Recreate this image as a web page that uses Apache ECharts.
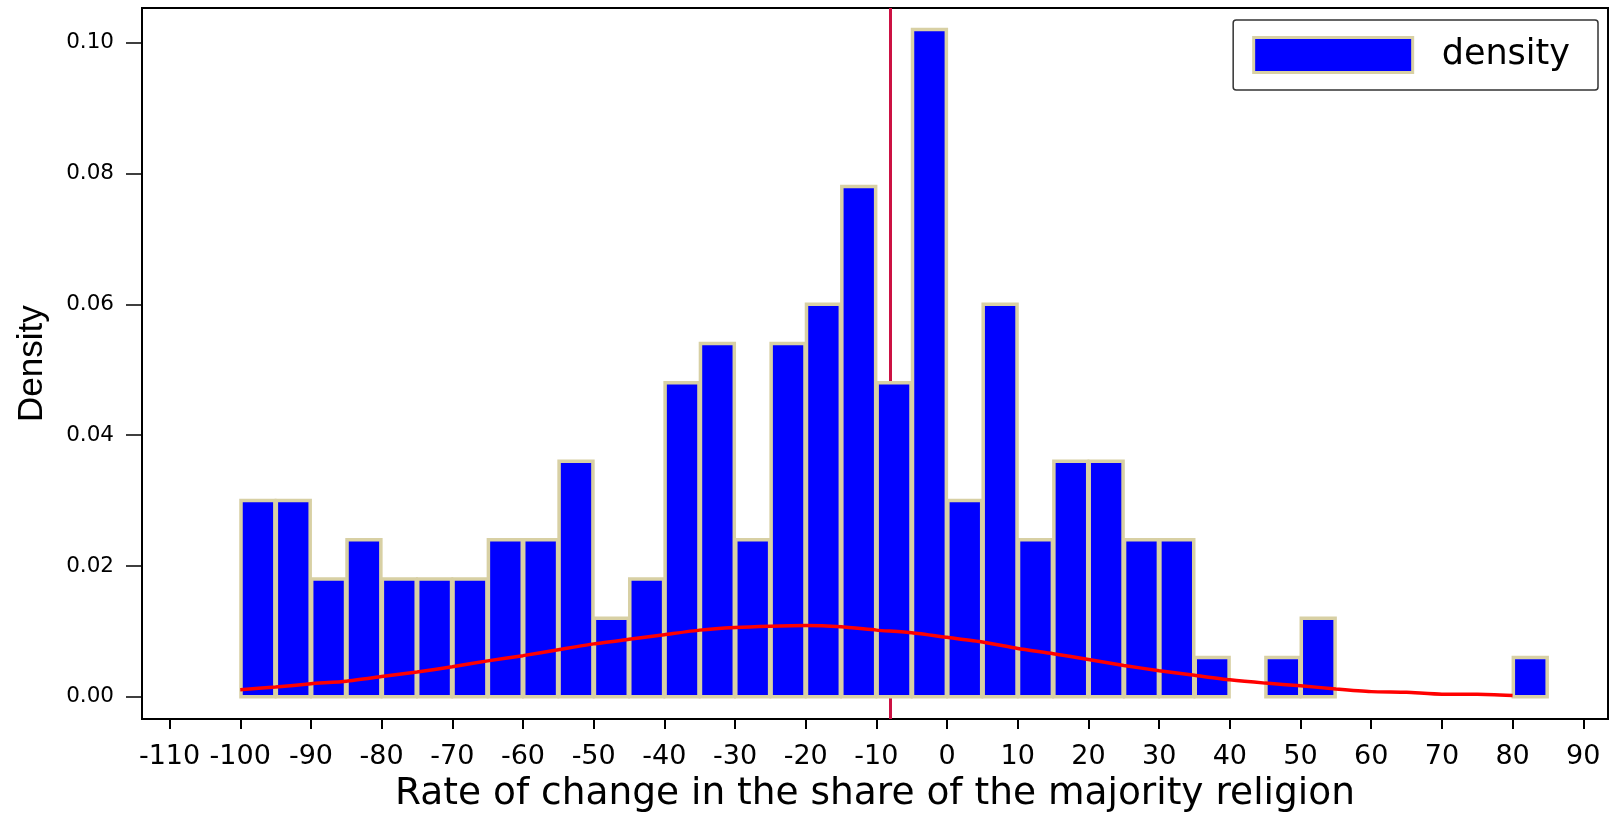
<!DOCTYPE html>
<html>
<head>
<meta charset="utf-8">
<script src="https://cdn.jsdelivr.net/npm/echarts@6/dist/echarts.min.js"></script>
<style>
  html, body { margin: 0; padding: 0; background: #fff; }
  #chart { width: 1613px; height: 818px; }
</style>
</head>
<body>
<div id="chart"></div>
<script>
// ---- data ----
const binStart = [-100, -95, -90, -85, -80, -75, -70, -65, -60, -55, -50, -45, -40, -35, -30, -25, -20, -15, -10, -5,
                  0, 5, 10, 15, 20, 25, 30, 35, 40, 45, 50, 55, 60, 65, 70, 75, 80];
const binWidth = 5;
const density = [0.030, 0.030, 0.018, 0.024, 0.018, 0.018, 0.018, 0.024, 0.024, 0.036, 0.012, 0.018, 0.048, 0.054, 0.024, 0.054, 0.060, 0.078, 0.048, 0.102,
                 0.030, 0.060, 0.024, 0.036, 0.036, 0.024, 0.024, 0.006, 0, 0.006, 0.012, 0, 0, 0, 0, 0, 0.006];
const curveX = [-100, -95, -90, -85, -80, -75, -70, -65, -60, -55, -50, -45, -40, -35, -30, -25, -20, -15, -10, -5,
                0, 5, 10, 15, 20, 25, 30, 35, 40, 45, 50, 55, 60, 65, 70, 75, 80];
const curveY = [0.0011, 0.0015, 0.0020, 0.0024, 0.0031, 0.0038, 0.0046, 0.0055, 0.0063, 0.0072, 0.0081, 0.0088, 0.0095, 0.0102, 0.0106, 0.0108, 0.0109, 0.0107, 0.0102, 0.0098,
                0.0091, 0.0084, 0.0074, 0.0066, 0.0057, 0.0048, 0.0040, 0.0033, 0.0026, 0.0021, 0.0017, 0.0012, 0.0008, 0.0007, 0.0004, 0.0004, 0.0002];
const meanValue = -8;
const xTicks = [-110, -100, -90, -80, -70, -60, -50, -40, -30, -20, -10, 0, 10, 20, 30, 40, 50, 60, 70, 80, 90];
const yTicks = [0, 0.02, 0.04, 0.06, 0.08, 0.10];
const seriesName = 'density';
const xTitle = 'Rate of change in the share of the majority religion';
const yTitle = 'Density';

// ---- chart ----
const BLUE = '#0000ff';
const BEIGE = '#d8d0a4';
const chart = echarts.init(document.getElementById('chart'), null, { renderer: 'canvas' });

const histData = binStart
  .map((s, i) => [s, s + binWidth, density[i]])
  .filter(d => d[2] > 0);
const curveData = curveX.map((x, i) => [x, curveY[i]]);

chart.setOption({
  animation: false,
  backgroundColor: '#fff',
  grid: {
    left: 142, right: 5, top: 8, bottom: 91,
    show: true, borderColor: '#000', borderWidth: 2, backgroundColor: 'transparent'
  },
  legend: {
    data: [{ name: seriesName, icon: 'rect' }],
    right: 15, top: 20,
    itemWidth: 159, itemHeight: 35,
    itemStyle: { color: BLUE, borderColor: BEIGE, borderWidth: 3 },
    textStyle: { fontFamily: 'DejaVu Sans', fontSize: 35, color: '#000', padding: [0, 0, 0, 24], lineHeight: 35 },
    padding: [16, 28, 16, 19],
    borderColor: '#333', borderWidth: 1.5, borderRadius: 3,
    backgroundColor: '#fff',
    selectedMode: false
  },
  xAxis: {
    type: 'value',
    min: -113.9, max: 93.5,
    name: xTitle,
    nameLocation: 'middle',
    nameGap: 50,
    nameTextStyle: { fontFamily: 'DejaVu Sans', fontSize: 37.5, color: '#000' },
    axisLine: { show: true, onZero: false, lineStyle: { color: '#000', width: 2 } },
    axisTick: { show: true, length: 10, lineStyle: { color: '#000', width: 2 }, customValues: xTicks },
    axisLabel: { customValues: xTicks, fontFamily: 'DejaVu Sans', fontSize: 27, color: '#000', margin: 24 },
    splitLine: { show: false }
  },
  yAxis: {
    type: 'value',
    min: -0.0034, max: 0.1053,
    name: yTitle,
    nameLocation: 'middle',
    nameGap: 92,
    nameTextStyle: { fontFamily: 'Liberation Sans', fontSize: 35, color: '#000' },
    axisLine: { show: true, onZero: false, lineStyle: { color: '#000', width: 2 } },
    axisTick: { show: true, length: 16, lineStyle: { color: '#000', width: 1.5 }, customValues: yTicks },
    axisLabel: { customValues: yTicks, fontFamily: 'DejaVu Sans', fontSize: 21.5, color: '#000', margin: 28,
                 formatter: v => Number(v).toFixed(2) },
    splitLine: { show: false }
  },
  series: [
    {
      name: 'mean',
      type: 'line',
      data: [],
      z: 1,
      silent: true,
      markLine: {
        silent: true,
        z: 1,
        symbol: 'none',
        label: { show: false },
        lineStyle: { color: '#cc1143', width: 3, type: 'solid' },
        data: [{ xAxis: meanValue }]
      }
    },
    {
      name: seriesName,
      type: 'custom',
      z: 10,
      itemStyle: { color: BLUE },
      encode: { x: [0, 1], y: 2 },
      data: histData,
      renderItem: function (params, api) {
        const a = api.coord([api.value(0), api.value(2)]);
        const b = api.coord([api.value(1), 0]);
        const inset = 0.75;
        return {
          type: 'rect',
          shape: { x: a[0] + inset, y: a[1], width: b[0] - a[0] - 2 * inset, height: b[1] - a[1] },
          style: { fill: BLUE, stroke: BEIGE, lineWidth: 3.5 }
        };
      }
    },
    {
      name: 'normal',
      type: 'line',
      z: 11,
      data: curveData,
      symbol: 'none',
      smooth: 0.2,
      lineStyle: { color: '#ff0000', width: 3.5 },
      silent: true
    }
  ]
});
</script>
</body>
</html>
